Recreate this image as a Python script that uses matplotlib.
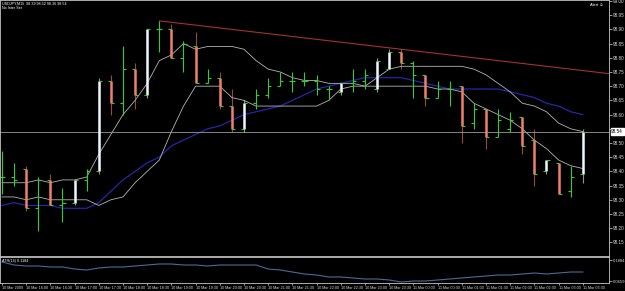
import numpy as np
import matplotlib.pyplot as plt

plt.rcParams['font.family'] = ['Liberation Sans', 'DejaVu Sans']

# USDJPY M15 bars, 10 Mar 15:30 .. 11 Mar 03:30
opens = [98.38, 98.38, 98.41, 98.27, 98.37, 98.28, 98.29, 98.37, 98.40, 98.72,
         98.64, 98.76, 98.67, 98.90, 98.90, 98.80, 98.84, 98.71, 98.73, 98.63,
         98.55, 98.64, 98.67, 98.70, 98.72, 98.72, 98.72, 98.69, 98.68, 98.71,
         98.72, 98.69, 98.76, 98.82, 98.78, 98.74, 98.66, 98.69, 98.70, 98.57,
         98.62, 98.52, 98.55, 98.59, 98.51, 98.40, 98.43, 98.33, 98.39]
highs = [98.47, 98.43, 98.42, 98.38, 98.39, 98.34, 98.37, 98.41, 98.73, 98.74,
         98.84, 98.78, 98.90, 98.93, 98.92, 98.86, 98.89, 98.76, 98.75, 98.69,
         98.65, 98.69, 98.73, 98.75, 98.75, 98.75, 98.74, 98.70, 98.71, 98.76,
         98.76, 98.80, 98.83, 98.83, 98.79, 98.74, 98.72, 98.72, 98.70, 98.64,
         98.62, 98.62, 98.61, 98.59, 98.55, 98.44, 98.43, 98.42, 98.55]
lows = [98.32, 98.35, 98.26, 98.19, 98.28, 98.22, 98.28, 98.33, 98.39, 98.60,
        98.60, 98.62, 98.66, 98.82, 98.80, 98.75, 98.71, 98.71, 98.62, 98.54,
        98.54, 98.62, 98.66, 98.70, 98.68, 98.70, 98.67, 98.65, 98.67, 98.68,
        98.69, 98.68, 98.76, 98.76, 98.66, 98.63, 98.66, 98.63, 98.50, 98.55,
        98.48, 98.52, 98.54, 98.46, 98.35, 98.39, 98.32, 98.31, 98.36]
closes = [98.38, 98.37, 98.27, 98.37, 98.28, 98.29, 98.37, 98.40, 98.72, 98.64,
          98.76, 98.67, 98.90, 98.90, 98.80, 98.85, 98.71, 98.73, 98.63, 98.55,
          98.64, 98.67, 98.70, 98.72, 98.72, 98.72, 98.69, 98.69, 98.71, 98.72,
          98.74, 98.79, 98.82, 98.78, 98.74, 98.66, 98.69, 98.69, 98.56, 98.62,
          98.52, 98.58, 98.58, 98.49, 98.39, 98.44, 98.32, 98.38, 98.54]
# bars with a coloured body overlay
down_bodies = [2, 4, 9, 11, 14, 16, 18, 19, 33, 35, 38, 40, 43, 44, 46]
up_bodies = [6, 8, 12, 20, 28, 31, 32, 45, 48]

ma_upper = [98.36, 98.36, 98.36, 98.37, 98.36, 98.37, 98.37, 98.38, 98.46, 98.53,
            98.60, 98.65, 98.71, 98.79, 98.81, 98.85, 98.83, 98.84, 98.84, 98.84,
            98.83, 98.79, 98.76, 98.75, 98.73, 98.72, 98.72, 98.71, 98.71, 98.71,
            98.70, 98.73, 98.76, 98.77, 98.77, 98.77, 98.77, 98.77, 98.77, 98.76,
            98.74, 98.71, 98.68, 98.64, 98.63, 98.61, 98.57, 98.55, 98.54]
ma_lower = [98.31, 98.31, 98.30, 98.31, 98.30, 98.30, 98.30, 98.30, 98.28, 98.30,
            98.31, 98.36, 98.40, 98.44, 98.54, 98.63, 98.70, 98.70, 98.70, 98.66,
            98.65, 98.63, 98.63, 98.63, 98.63, 98.63, 98.63, 98.65, 98.69, 98.70,
            98.70, 98.70, 98.70, 98.70, 98.70, 98.70, 98.69, 98.69, 98.68, 98.64,
            98.62, 98.60, 98.58, 98.55, 98.51, 98.48, 98.44, 98.42, 98.41]
ma_slow = [98.28, 98.29, 98.28, 98.28, 98.28, 98.27, 98.27, 98.27, 98.29, 98.33,
           98.37, 98.40, 98.43, 98.45, 98.49, 98.51, 98.53, 98.55, 98.56, 98.58,
           98.60, 98.61, 98.62, 98.63, 98.65, 98.67, 98.69, 98.70, 98.71, 98.72,
           98.73, 98.73, 98.73, 98.73, 98.72, 98.71, 98.70, 98.69, 98.69, 98.69,
           98.69, 98.69, 98.68, 98.67, 98.66, 98.64, 98.63, 98.61, 98.60]
atr = [0.1767, 0.1593, 0.1534, 0.1534, 0.1476, 0.1476, 0.1359, 0.1301, 0.1418, 0.1476,
       0.1476, 0.1534, 0.1593, 0.1651, 0.1651, 0.1593, 0.1593, 0.1534, 0.1593, 0.1593,
       0.1593, 0.1593, 0.1359, 0.1301, 0.1184, 0.1068, 0.1009, 0.0893, 0.0893, 0.0835,
       0.0776, 0.0776, 0.0718, 0.0601, 0.0659, 0.0659, 0.0718, 0.0776, 0.0835, 0.0893,
       0.0951, 0.1009, 0.1009, 0.1068, 0.1126, 0.1068, 0.1126, 0.1184, 0.1184]

time_labels = ['10 Mar 2009', '10 Mar 16:00', '10 Mar 16:30', '10 Mar 17:00', '10 Mar 17:30',
               '10 Mar 18:00', '10 Mar 18:30', '10 Mar 19:00', '10 Mar 19:30', '10 Mar 20:00',
               '10 Mar 20:30', '10 Mar 21:00', '10 Mar 21:30', '10 Mar 22:00', '10 Mar 22:30',
               '10 Mar 23:00', '10 Mar 23:30', '11 Mar 00:00', '11 Mar 00:30', '11 Mar 01:00',
               '11 Mar 01:30', '11 Mar 02:00', '11 Mar 02:30', '11 Mar 03:00', '11 Mar 03:30']
price_ticks = [98.15, 98.20, 98.25, 98.30, 98.35, 98.40, 98.45, 98.50, 98.55,
               98.60, 98.65, 98.70, 98.75, 98.80, 98.85, 98.90, 98.95, 99.00]
atr_ticks = [0.0659, 0.1884]
trend_idx = [13, 33]
trend_price = [98.93, 98.83]
last_price = 98.54

W, H = 625, 291
fig = plt.figure(figsize=(W / 100, H / 100), dpi=100, facecolor='black')
ax = fig.add_axes([0, 35 / H, 609 / W, 256 / H], facecolor='black')
ax2 = fig.add_axes([0, 8 / H, 609 / W, 26 / H], facecolor='black', sharex=ax)

x = np.arange(len(opens))
green = '#33cc33'
salmon = '#f0806a'
white = '#eef6ff'

# indicator lines
ax.plot(x, ma_slow, color='#2626a8', lw=0.9)
ax.plot(x, ma_upper, color='#b4b4b4', lw=0.6)
ax.plot(x, ma_lower, color='#b4b4b4', lw=0.6)

# trend line (ray to the right)
slope = (trend_price[1] - trend_price[0]) / (trend_idx[1] - trend_idx[0])
tx = np.array([trend_idx[0], 52])
ax.plot(tx, trend_price[0] + slope * (tx - trend_idx[0]), color='#a83030', lw=0.8)

# bid line
ax.axhline(last_price, color='#9a9a9a', lw=0.6)

# bars
tick = 0.25
for i in range(len(x)):
    if i in down_bodies or i in up_bodies:
        c = salmon if i in down_bodies else white
        ax.vlines(x[i], lows[i], highs[i], color=c, lw=0.8, alpha=0.6)
        ax.vlines(x[i], min(opens[i], closes[i]), max(opens[i], closes[i]), color=c, lw=1.8)
    else:
        ax.vlines(x[i], lows[i], highs[i], color=green, lw=0.8)
    ax.hlines(opens[i], x[i] - tick, x[i], color=green, lw=0.8)
    ax.hlines(closes[i], x[i], x[i] + tick, color=green, lw=0.8)

ax.set_xlim(-2 / 12.1, 607 / 12.1)
ax.set_ylim(98.102, 99.0035)
ax.set_yticks(price_ticks)
# the 98.55 label sits under the bid price box
ax.set_yticklabels(['' if abs(p - 98.55) < 1e-6 else f'{p:.2f}' for p in price_ticks])
ax.tick_params(axis='y', left=False, labelleft=False, right=True, labelright=True,
               labelsize=3.3, colors='#d8d8d8', length=2, width=0.5, pad=1)
ax.tick_params(axis='x', bottom=False, labelbottom=False)

ax.annotate(f'{last_price:.2f}', xy=(1.0, last_price), xycoords=('axes fraction', 'data'),
            xytext=(1.6, 0), textcoords='offset points', va='center', ha='left',
            fontsize=3.3, color='black',
            bbox=dict(boxstyle='square,pad=0.15', fc='white', ec='white'))

# ATR panel
ax2.plot(x, atr, color='#4a6a9a', lw=0.8)
ax2.set_ylim(0.0543, 0.2059)
ax2.set_yticks(atr_ticks)
ax2.set_yticklabels([f'{v:.4f}' for v in atr_ticks])
ax2.tick_params(axis='y', left=False, labelleft=False, right=True, labelright=True,
                labelsize=3.0, colors='#d8d8d8', length=2, width=0.5, pad=1)
ax2.set_xticks(np.arange(0, len(x), 2))
ax2.set_xticklabels(time_labels)
ax2.tick_params(axis='x', labelsize=2.7, colors='#d8d8d8', length=1.5, width=0.5, pad=0.8)
for lbl in ax2.get_xticklabels():
    lbl.set_ha('left')

for a in (ax, ax2):
    for s in a.spines.values():
        s.set_color('#c8c8c8')
        s.set_linewidth(0.6)

fig.text(2 / W, 1 - 4 / H, 'USDJPY,M15  98.39 98.52 98.36 98.54', fontsize=2.7,
         color='white', va='center')
fig.text(2 / W, 1 - 8 / H, 'No Inter Set', fontsize=2.7, color='white', va='center')
fig.text(604 / W, 1 - 5 / H, 'Alert \u263a', fontsize=2.9, color='white', va='center', ha='right')
ax2.text(2 / 609, 1 - 4 / 26, 'ATR(14) 0.1184', transform=ax2.transAxes,
         fontsize=2.7, color='white', va='center')

fig.savefig('out.png', dpi=100, facecolor='black')
